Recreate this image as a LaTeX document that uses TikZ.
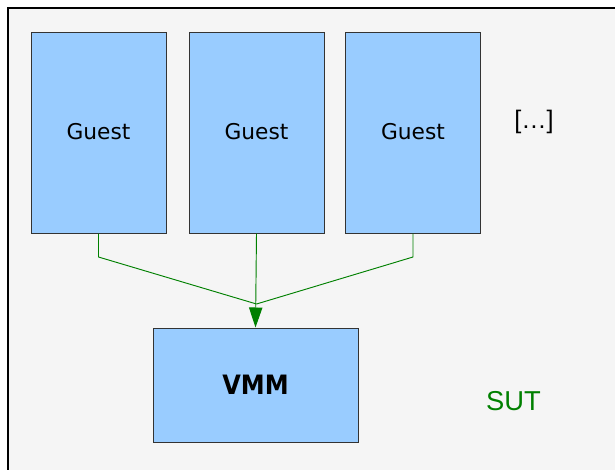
\documentclass[tikz,border=0pt]{standalone}
\usepackage{fontspec}
\setmainfont{DejaVu Sans}
\newfontfamily\labelfont{Liberation Sans}
\newfontfamily\vmmfont{DejaVu Sans Condensed}
\usetikzlibrary{arrows.meta,positioning}
\definecolor{boxblue}{HTML}{99CCFF}
\definecolor{boxline}{HTML}{333333}
\definecolor{sutgreen}{HTML}{008000}
\definecolor{panel}{HTML}{F5F5F5}

\begin{document}
\begin{tikzpicture}[
  x=0.75pt, y=-0.75pt,
  every node/.style={inner sep=0pt},
  comp/.style={rectangle, draw=boxline, fill=boxblue, line width=0.75pt},
  guest/.style={comp, minimum width=101.25pt, minimum height=150.75pt, font=\fontsize{16.3}{18}\selectfont},
  wire/.style={draw=sutgreen, line width=0.7pt}
]
\useasboundingbox (0,0) rectangle (615,469);
\begin{scope}
\clip (0,0) rectangle (615,469);
\draw[fill=panel, line width=1.1pt] (8,8) rectangle (630,480);
\end{scope}

\node[guest] (g1) at (98.5,132.5) {\raisebox{1pt}{Guest}};
\node[guest] (g2) at (256.5,132.5) {\raisebox{1pt}{Guest}};
\node[guest] (g3) at (413,132.5) {\raisebox{1pt}{Guest}};
\node[font=\labelfont\fontsize{19}{22}\selectfont] (more) at (534,122) {[\ldots]};

\node[comp, minimum width=153.75pt, minimum height=85.5pt, font=\vmmfont\bfseries\fontsize{20}{24}\selectfont] (vmm) at (255.5,385) {VMM};
\node[text=sutgreen, font=\labelfont\fontsize{20.5}{24}\selectfont] (sut) at (513.5,401) {SUT};

% guests to the VMM
\coordinate (join) at (256.5,304);
\coordinate (k1) at (98.5,257);
\coordinate (k3) at (413,257);
\draw[wire] (g1.south) -- (k1) -- (join);
\draw[wire] (g3.south) -- (k3) -- (join);
\draw[wire, -{Triangle[length=15pt, width=10pt]}] (g2.south) -- (vmm.north);

\end{tikzpicture}
\end{document}
